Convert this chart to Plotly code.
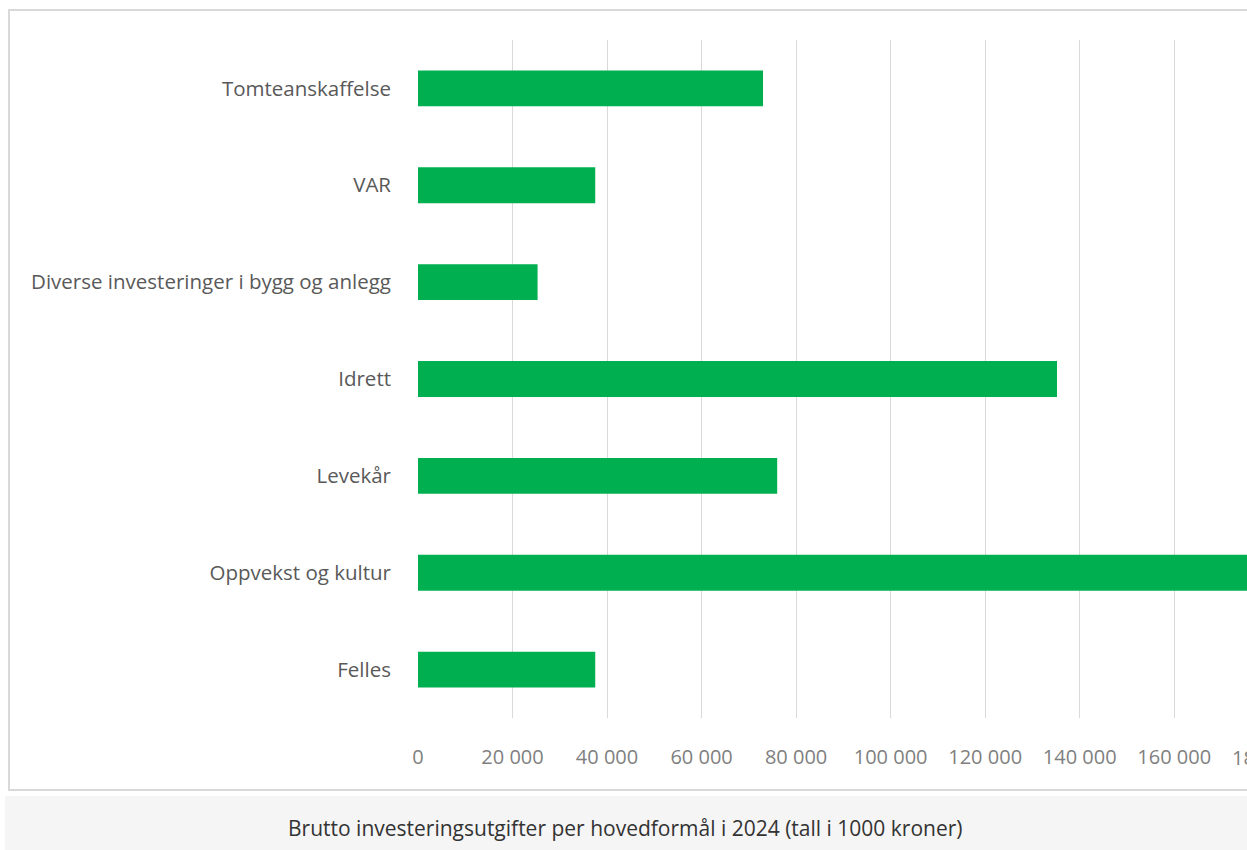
import plotly.graph_objects as go

categories = [
    "Tomteanskaffelse",
    "VAR",
    "Diverse investeringer i bygg og anlegg",
    "Idrett",
    "Levekår",
    "Oppvekst og kultur",
    "Felles",
]
values = [73000, 37500, 25300, 135200, 76000, 186000, 37500]
tick_values = [0, 20000, 40000, 60000, 80000, 100000, 120000, 140000, 160000, 180000]
tick_labels = ["0", "20 000", "40 000", "60 000", "80 000", "100 000", "120 000", "140 000", "160 000", "180 000"]
caption = "Brutto investeringsutgifter per hovedformål i 2024 (tall i 1000 kroner)"

x_max = 175400

W, H = 1247, 850
ML, MR, MT, MB = 418, 0, 40, 132
pw = W - ML - MR
ph = H - MT - MB

def px_x(p):
    return (p - ML) / pw

def px_y(p):
    return (H - MB - p) / ph

fig = go.Figure()
fig.add_trace(go.Bar(
    y=categories, x=values, orientation="h",
    marker=dict(color="#00B050", line=dict(width=0)),
    hoverinfo="x+y",
))

shapes = [
    dict(type="rect", xref="paper", yref="paper",
         x0=px_x(9), x1=px_x(1260), y0=px_y(790), y1=px_y(10),
         line=dict(color="#d9d9d9", width=2), fillcolor="rgba(0,0,0,0)", layer="below"),
    dict(type="rect", xref="paper", yref="paper",
         x0=px_x(5), x1=px_x(1260), y0=px_y(852), y1=px_y(796),
         line=dict(width=0), fillcolor="#f5f5f5", layer="below"),
]

tick_font = dict(family="Open Sans", size=20, color="#7f7f7f")

annotations = [
    dict(text=caption, xref="paper", yref="paper", x=px_x(625), y=px_y(828),
         showarrow=False, xanchor="center", yanchor="middle",
         font=dict(family="Open Sans", size=21, color="#333333")),
    dict(text=tick_labels[-1], xref="paper", yref="paper", x=tick_values[-1] / x_max,
         y=px_y(757), showarrow=False, xanchor="center", yanchor="middle",
         font=tick_font),
]

fig.update_layout(
    width=W, height=H,
    margin=dict(l=ML, r=MR, t=MT, b=MB),
    paper_bgcolor="white", plot_bgcolor="white",
    bargap=0.63,
    showlegend=False,
    separators=", ",
    shapes=shapes,
    annotations=annotations,
    xaxis=dict(
        range=[0, x_max],
        tickvals=tick_values[:-1], ticktext=tick_labels[:-1],
        showgrid=True, gridcolor="#d9d9d9", gridwidth=1,
        zeroline=False, showline=False,
        ticks="", ticklabelstandoff=25,
        tickfont=tick_font,
        fixedrange=True,
    ),
    yaxis=dict(
        autorange="reversed",
        showgrid=False, zeroline=False, showline=False,
        ticks="", ticklabelstandoff=26,
        tickfont=dict(family="Open Sans", size=20.5, color="#595959"),
        fixedrange=True,
    ),
)

fig.write_html(
    "out.html",
    config={"displayModeBar": False},
    post_script="document.body.style.margin='0';document.body.style.overflow='hidden';",
)
